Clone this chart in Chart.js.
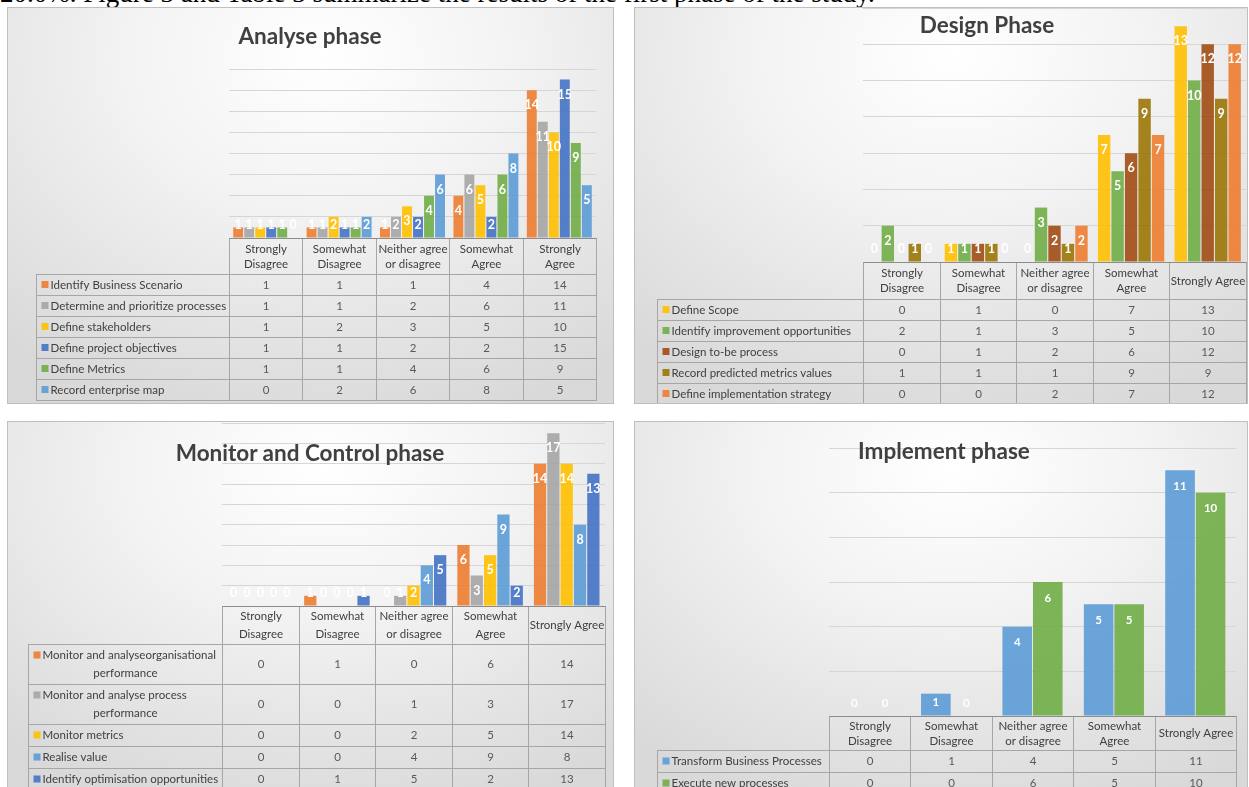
<!DOCTYPE html>
<html>
<head>
<meta charset="utf-8">
<script src="https://cdn.jsdelivr.net/npm/chart.js@4.4.0/dist/chart.umd.min.js"></script>
<style>
  html, body { margin: 0; padding: 0; background: #fff; }
  #page { position: relative; width: 1249px; height: 787px; overflow: hidden; background: #fff; }
  .caption { position: absolute; left: 0; top: -20px; font: 27px "Liberation Serif", serif; line-height: 1; color: #000; white-space: nowrap; }
  .panel { position: absolute; box-sizing: border-box; border: 1px solid #bfbfbf;
    background: radial-gradient(ellipse 80% 95% at 52% 12%, #ffffff 0%, #f3f3f3 40%, #d9d9d9 100%); }
  .panel canvas { position: absolute; left: 0; top: 0; }
  .title { position: absolute; width: 400px; text-align: center; font: bold 22.5px Lato, sans-serif; color: #404040; line-height: 24px; z-index: 2; }
</style>
</head>
<body>
<div id="page">
  <div class="caption">20.0%. Figure 3 and Table 3 summarize the results of the first phase of the study.</div>

  <div class="panel" style="left:7px;top:7px;width:607px;height:397px"><canvas id="analyseChart" width="605" height="395"></canvas></div>
  <div class="panel" style="left:634px;top:7px;width:614px;height:397px"><canvas id="designChart" width="612" height="395"></canvas></div>
  <div class="panel" style="left:7px;top:421px;width:607px;height:380px"><canvas id="monitorChart" width="605" height="378"></canvas></div>
  <div class="panel" style="left:634px;top:421px;width:614px;height:380px"><canvas id="implementChart" width="612" height="378"></canvas></div>

  <div class="title" style="left:110px;top:24px">Analyse phase</div>
  <div class="title" style="left:787px;top:13px">Design Phase</div>
  <div class="title" style="left:110px;top:441px">Monitor and Control phase</div>
  <div class="title" style="left:744px;top:439px">Implement phase</div>
</div>

<script>
// --- Categories (table header / x axis)
const categoriesNarrow = [['Strongly', 'Disagree'], ['Somewhat', 'Disagree'], ['Neither agree', 'or disagree'], ['Somewhat', 'Agree'], ['Strongly', 'Agree']];
const categoriesWide = [['Strongly', 'Disagree'], ['Somewhat', 'Disagree'], ['Neither agree', 'or disagree'], ['Somewhat', 'Agree'], ['Strongly Agree']];

// --- Analyse phase
const analyseSeries = [['Identify Business Scenario'], ['Determine and prioritize processes'], ['Define stakeholders'], ['Define project objectives'], ['Define Metrics'], ['Record enterprise map']];
const analyseValues = [
  [1, 1, 1, 4, 14],
  [1, 1, 2, 6, 11],
  [1, 2, 3, 5, 10],
  [1, 1, 2, 2, 15],
  [1, 1, 4, 6, 9],
  [0, 2, 6, 8, 5]
];

// --- Design phase
const designSeries = [['Define Scope'], ['Identify improvement opportunities'], ['Design to-be process'], ['Record predicted metrics values'], ['Define implementation strategy']];
const designValues = [
  [0, 1, 0, 7, 13],
  [2, 1, 3, 5, 10],
  [0, 1, 2, 6, 12],
  [1, 1, 1, 9, 9],
  [0, 0, 2, 7, 12]
];

// --- Monitor and Control phase
const monitorSeries = [['Monitor and analyseorganisational', 'performance'], ['Monitor and analyse process', 'performance'], ['Monitor metrics'], ['Realise value'], ['Identify optimisation opportunities']];
const monitorValues = [
  [0, 1, 0, 6, 14],
  [0, 0, 1, 3, 17],
  [0, 0, 2, 5, 14],
  [0, 0, 4, 9, 8],
  [0, 1, 5, 2, 13]
];

// --- Implement phase
const implementSeries = [['Transform Business Processes'], ['Execute new processes']];
const implementValues = [
  [0, 1, 4, 5, 11],
  [0, 0, 6, 5, 10]
];

// Office palette
const C = {
  orange: 'rgba(237,125,49,0.9)', gray: 'rgba(165,165,165,0.9)', gold: 'rgba(255,192,0,0.9)',
  blue: 'rgba(68,114,196,0.9)', green: 'rgba(112,173,71,0.9)', lightBlue: 'rgba(91,155,213,0.9)',
  brown: 'rgba(158,72,14,0.88)', olive: 'rgba(153,115,0,0.88)'
};

const TABLE_FONT = '11.5px Lato, sans-serif';
const LINE_COLOR = '#a6a6a6';

// 📋 draws the data table under the plot, columns follow the x scale
const dataTablePlugin = {
  id: 'dataTable',
  afterDraw(chart, args, opts) {
    const ctx = chart.ctx;
    const x = chart.scales.x;
    const area = chart.chartArea;
    const n = chart.data.labels.length;
    const colW = (x.right - x.left) / n;
    const top = Math.round(area.bottom) + 0.5;
    const left = opts.left + 0.5;
    const labelRight = Math.round(x.left) + 0.5;

    ctx.save();
    ctx.font = TABLE_FONT;
    ctx.textBaseline = 'middle';
    ctx.strokeStyle = LINE_COLOR;
    ctx.lineWidth = 1;

    // header row
    const hb = Math.round(top + opts.headerH) + 0.5;
    ctx.fillStyle = '#404040';
    ctx.textAlign = 'center';
    for (let i = 0; i < n; i++) {
      const l = Math.round(x.left + i * colW) + 0.5;
      const r = Math.round(x.left + (i + 1) * colW) + 0.5;
      ctx.strokeRect(l, top, r - l, hb - top);
      const lines = [].concat(chart.data.labels[i]);
      const cy = (top + hb) / 2;
      lines.forEach((t, k) => ctx.fillText(t, (l + r) / 2, cy + (k - (lines.length - 1) / 2) * opts.lineH));
    }
    // axis line on top of header
    ctx.strokeStyle = '#8c8c8c';
    ctx.beginPath(); ctx.moveTo(labelRight, top); ctx.lineTo(Math.round(x.right) + 0.5, top); ctx.stroke();
    ctx.strokeStyle = LINE_COLOR;

    // data rows
    let y = hb;
    chart.data.datasets.forEach((ds) => {
      const lines = ds.tableLines;
      const h = Math.round(opts.rowH + (lines.length - 1) * opts.lineH);
      const cy = y + h / 2;
      ctx.strokeRect(left, y, labelRight - left, h);
      // label cell: first line after the colour key, wrapped lines centred
      const mid = (left + labelRight) / 2;
      ctx.textAlign = 'left';
      lines.forEach((t, k) => {
        const ly = cy + (k - (lines.length - 1) / 2) * opts.lineH;
        if (k === 0) {
          ctx.fillStyle = ds.backgroundColor;
          ctx.fillRect(left + 5, ly - 4, 7, 7);
          ctx.fillStyle = '#404040';
          ctx.fillText(t, left + 14, ly);
        } else {
          ctx.fillStyle = '#404040';
          ctx.fillText(t, mid - ctx.measureText(t).width / 2, ly);
        }
      });
      // value cells
      ctx.textAlign = 'center';
      ctx.fillStyle = '#595959';
      for (let i = 0; i < n; i++) {
        const l = Math.round(x.left + i * colW) + 0.5;
        const r = Math.round(x.left + (i + 1) * colW) + 0.5;
        ctx.strokeRect(l, y, r - l, h);
        ctx.fillText(String(ds.data[i]), (l + r) / 2, cy);
      }
      y += h;
    });
    ctx.restore();
  }
};

// 🏷️ white value labels, inside the top of the bar
const barLabelPlugin = {
  id: 'barLabels',
  afterDatasetsDraw(chart, args, opts) {
    const ctx = chart.ctx;
    ctx.save();
    ctx.font = opts.font;
    ctx.fillStyle = '#ffffff';
    ctx.textAlign = 'center';
    ctx.textBaseline = 'middle';
    chart.data.datasets.forEach((ds, di) => {
      chart.getDatasetMeta(di).data.forEach((bar, i) => {
        const y = Math.min(bar.y + opts.offset, bar.base - opts.clamp);
        ctx.fillText(String(ds.data[i]), bar.x, y);
      });
    });
    ctx.restore();
  }
};

function makeChart(id, cfg) {
  return new Chart(document.getElementById(id), {
    type: 'bar',
    data: {
      labels: cfg.categories,
      datasets: cfg.series.map((name, k) => ({
        label: name.join(' '),
        tableLines: name,
        data: cfg.values[k],
        backgroundColor: cfg.colors[k],
        borderWidth: 0,
        categoryPercentage: cfg.catPct,
        barPercentage: cfg.barPct
      }))
    },
    options: {
      responsive: false,
      animation: false,
      devicePixelRatio: 1,
      layout: { padding: cfg.padding },
      scales: {
        x: { display: false },
        y: {
          min: 0, max: cfg.max,
          ticks: { display: false, stepSize: 2 },
          grid: { color: '#d6d6d6', drawTicks: false, lineWidth: 1 },
          border: { display: false }
        }
      },
      plugins: {
        legend: { display: false },
        tooltip: { enabled: false },
        dataTable: cfg.table,
        barLabels: { font: cfg.labelFont || 'bold 12.5px Lato, sans-serif', offset: cfg.labelOffset || 15, clamp: 13 }
      }
    },
    plugins: [dataTablePlugin, barLabelPlugin]
  });
}

makeChart('analyseChart', {
  categories: categoriesNarrow,
  series: analyseSeries,
  values: analyseValues,
  colors: [C.orange, C.gray, C.gold, C.blue, C.green, C.lightBlue],
  max: 16,
  catPct: 0.9, barPct: 0.9,
  padding: { left: 221, right: 17, top: 61, bottom: 165 },
  table: { left: 28, headerH: 35, rowH: 21, lineH: 15 }
});

makeChart('designChart', {
  categories: categoriesWide,
  series: designSeries,
  values: designValues,
  colors: [C.gold, C.green, C.brown, C.olive, C.orange],
  max: 14,
  catPct: 0.88, barPct: 0.92,
  padding: { left: 228, right: 1, top: 0, bottom: 141 },
  table: { left: 22, headerH: 36, rowH: 21, lineH: 15 }
});

makeChart('monitorChart', {
  categories: categoriesWide,
  series: monitorSeries,
  values: monitorValues,
  colors: [C.orange, C.gray, C.gold, C.lightBlue, C.blue],
  max: 18,
  catPct: 0.87, barPct: 0.92,
  padding: { left: 214, right: 8, top: 1, bottom: 194 },
  table: { left: 20, headerH: 37, rowH: 21.5, lineH: 18 }
});

makeChart('implementChart', {
  categories: categoriesWide,
  series: implementSeries,
  values: implementValues,
  colors: [C.lightBlue, C.green],
  max: 12,
  catPct: 0.75, barPct: 0.97,
  labelOffset: 16,
  labelFont: 'bold 11.5px Lato, sans-serif',
  padding: { left: 194, right: 11, top: 26, bottom: 84 },
  table: { left: 22, headerH: 33, rowH: 21.5, lineH: 15 }
});
</script>
</body>
</html>
